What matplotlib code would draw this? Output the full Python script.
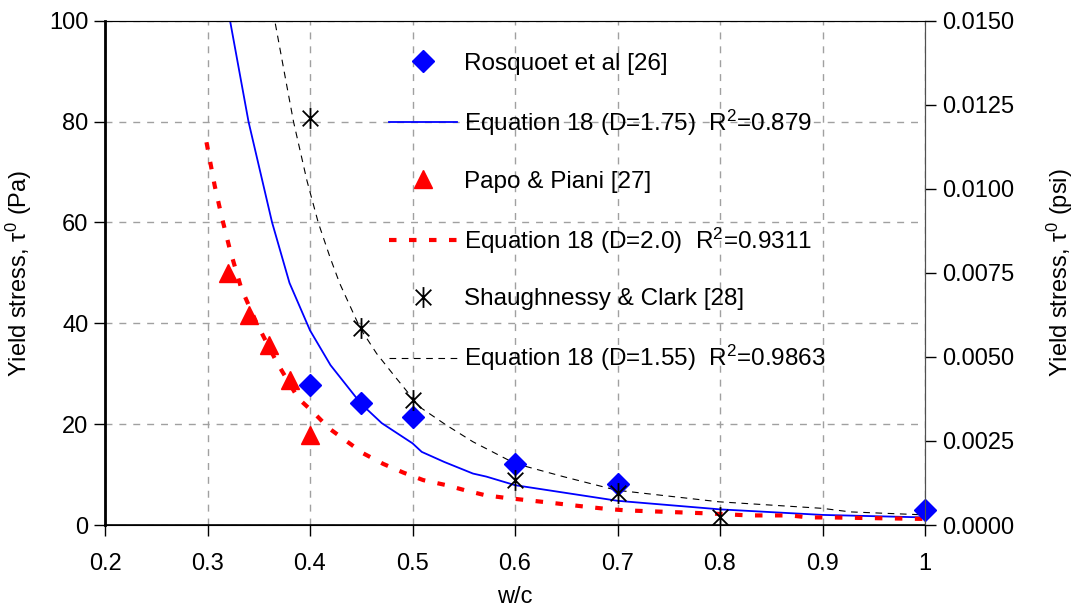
import numpy as np
import matplotlib
matplotlib.use('Agg')
import matplotlib.pyplot as plt
from matplotlib.path import Path
from matplotlib.ticker import FormatStrFormatter

plt.rcParams['font.family'] = ['Liberation Sans', 'DejaVu Sans']
plt.rcParams['mathtext.fontset'] = 'custom'
plt.rcParams['mathtext.rm'] = 'Liberation Sans'
plt.rcParams['mathtext.it'] = 'Liberation Sans'
plt.rcParams['font.size'] = 17

# measured data
ros_x = [0.40, 0.45, 0.50, 0.60, 0.70, 1.00]
ros_y = [27.7, 24.2, 21.4, 12.1, 8.2, 3.0]

papo_x = [0.32, 0.34, 0.36, 0.38, 0.40]
papo_y = [49.9, 41.6, 35.6, 28.7, 17.8]

sha_x = [0.40, 0.45, 0.50, 0.60, 0.70, 0.80]
sha_y = [80.8, 39.0, 24.8, 8.9, 6.3, 1.6]

# Equation 18 curves
eq175_x = [0.322, 0.34, 0.363, 0.38, 0.40, 0.42, 0.45, 0.47, 0.50, 0.509, 0.531, 0.559, 0.572, 0.60, 0.70, 0.80, 0.90, 1.00]
eq175_y = [100, 80, 60, 48, 38.6, 31.7, 24.0, 20.2, 16.2, 14.5, 12.5, 10.2, 9.6, 7.9, 4.8, 3.1, 2.0, 1.5]

eq20_x = [0.299, 0.307, 0.314, 0.322, 0.333, 0.348, 0.3675, 0.3886, 0.403, 0.419, 0.452, 0.4716, 0.491, 0.5105,
          0.533, 0.551, 0.571, 0.59, 0.631, 0.67, 0.689, 0.708, 0.748, 0.789, 0.828, 0.868, 0.887, 0.907, 1.00]
eq20_y = [75.9, 67.3, 61.0, 54.5, 46.9, 40.0, 32.3, 25.1, 22.4, 19.1, 14.2, 12.1, 10.4, 8.9,
          7.9, 6.9, 5.9, 5.4, 4.5, 3.6, 3.2, 2.9, 2.6, 2.3, 1.9, 1.9, 1.5, 1.5, 1.2]

eq155_x = [0.364, 0.377, 0.384, 0.397, 0.408, 0.4195, 0.429, 0.449, 0.465, 0.483, 0.507, 0.533, 0.559, 0.60,
           0.647, 0.699, 0.799, 0.90, 0.927, 1.00]
eq155_y = [101.8, 87.5, 79.9, 68.3, 60.0, 53.1, 47.9, 39.0, 34.0, 29.4, 23.4, 19.8, 16.5, 12.2,
           9.6, 6.9, 4.6, 3.3, 2.6, 2.0]

xticks = [0.2, 0.3, 0.4, 0.5, 0.6, 0.7, 0.8, 0.9, 1.0]
xtick_labels = ['0.2', '0.3', '0.4', '0.5', '0.6', '0.7', '0.8', '0.9', '1']
psi_ticks = [0, 0.0025, 0.005, 0.0075, 0.01, 0.0125, 0.015]

# X with a vertical bar, like the Excel star marker
d = 0.75
star = Path([(0, -1), (0, 1), (-d, -d), (d, d), (-d, d), (d, -d)],
            [Path.MOVETO, Path.LINETO, Path.MOVETO, Path.LINETO, Path.MOVETO, Path.LINETO])

fig = plt.figure(figsize=(10.76, 6.09), dpi=100)
ax = fig.add_axes([105/1076, 1-525/609, 820/1076, (525-20.7)/609])

ros, = ax.plot(ros_x, ros_y, 'D', color='#0000ff', markersize=11, linestyle='none', clip_on=False, zorder=5,
               label='Rosquoet et al [26]')
l175, = ax.plot(eq175_x, eq175_y, '-', color='#0000ff', lw=1.3,
                label='Equation 18 (D=1.75)  R$^2$=0.879')
papo, = ax.plot(papo_x, papo_y, '^', color='#ff0000', markersize=13, linestyle='none', zorder=5,
                label='Papo & Piani [27]')
l20, = ax.plot(eq20_x, eq20_y, color='#ff0000', lw=3, dashes=(1.8, 3.0),
               label='Equation 18 (D=2.0)  R$^2$=0.9311')
sha, = ax.plot(sha_x, sha_y, marker=star, color='black', markersize=15, mew=1.3, linestyle='none',
               zorder=5, label='Shaughnessy & Clark [28]')
l155, = ax.plot(eq155_x, eq155_y, color='black', lw=0.8, dashes=(6, 5),
                label='Equation 18 (D=1.55)  R$^2$=0.9863')

ax.set_xlim(0.2, 1.0)
ax.set_ylim(0, 100)
ax.set_xticks(xticks)
ax.set_xticklabels(xtick_labels)
ax.set_yticks([0, 20, 40, 60, 80, 100])
ax.grid(True, color='#a0a0a0', linestyle=(0, (5, 5)), lw=1)
ax.tick_params(axis='x', direction='out', length=8, width=1, pad=12)
ax.tick_params(axis='y', direction='out', length=8, width=1, pad=4)
ax.spines['left'].set_linewidth(2)
ax.spines['bottom'].set_linewidth(1.2)
ax.spines['top'].set_color('#505050')
ax.spines['right'].set_color('#505050')
ax.set_xlabel('w/c', labelpad=8)
ax.set_ylabel(r'Yield stress, $\tau^0$ (Pa)', labelpad=11)

ax2 = ax.twinx()
ax2.set_ylim(0, 0.015)
ax2.set_yticks(psi_ticks)
ax2.yaxis.set_major_formatter(FormatStrFormatter('%.4f'))
ax2.tick_params(direction='out', length=8, width=1, pad=4)
ax2.spines['right'].set_color('#505050')
ax2.set_ylabel(r'Yield stress, $\tau^0$ (psi)', labelpad=22)

ax.legend(handles=[ros, l175, papo, l20, sha, l155], loc='upper left', bbox_to_anchor=(0.32, 0.98),
          frameon=False, fontsize=17.5, handlelength=2.8, handletextpad=0.29, labelspacing=1.35, numpoints=1)

fig.savefig('out.png', dpi=100)
